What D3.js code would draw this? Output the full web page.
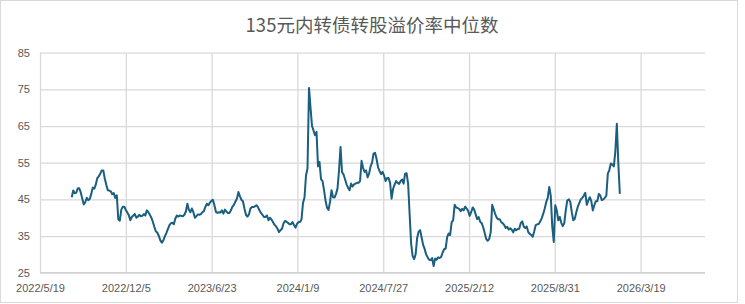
<!DOCTYPE html>
<html>
<head>
<meta charset="utf-8">
<script src="https://cdn.jsdelivr.net/npm/d3@7/dist/d3.min.js"></script>
<style>
  body { margin: 0; background: #fff; }
  text { font-family: "Liberation Sans", Arial, sans-serif; }
</style>
</head>
<body>
<svg id="chart" width="745" height="304"></svg>
<script>
var title = "135元内转债转股溢价率中位数";

// readings of the median premium twice a week, first one on 2022/8/1
var firstDate = "2022/8/1",
    stepDays = 3.5;

var premium = [
  45.6, 47.4, 46.7, 46.8, 48.0, 48.0, 46.9, 45.2, 43.6, 44.2,
  45.4, 44.8, 45.1, 46.5, 48.2, 47.9, 49.0, 50.8, 51.3, 52.0,
  52.9, 52.9, 50.7, 49.0, 47.5, 47.4, 47.2, 46.4, 46.7, 45.4,
  46.1, 39.5, 39.2, 42.2, 43.0, 43.0, 42.1, 41.4, 40.7, 39.3,
  40.2, 40.6, 41.0, 40.0, 40.3, 40.8, 40.4, 40.5, 41.0, 40.6,
  42.0, 41.5, 40.8, 40.0, 38.9, 37.5, 36.3, 35.9, 35.0, 33.8,
  33.2, 33.8, 34.9, 35.8, 36.9, 37.9, 38.5, 38.6, 38.2, 39.8,
  40.6, 40.3, 40.6, 40.5, 40.4, 40.8, 41.7, 43.8, 42.2, 41.5,
  42.5, 41.5, 40.0, 40.4, 40.9, 40.8, 41.0, 41.5, 41.8, 43.0,
  43.8, 43.4, 44.1, 44.6, 44.9, 43.4, 41.6, 41.3, 41.5, 41.4,
  42.0, 41.1, 42.2, 41.7, 41.3, 41.3, 42.0, 43.0, 43.5, 44.4,
  45.2, 47.0, 45.8, 44.9, 44.5, 42.5, 40.8, 40.3, 40.9, 42.5,
  42.9, 42.9, 43.1, 43.4, 42.9, 42.0, 41.3, 40.8, 40.2, 40.2,
  40.6, 39.3, 40.0, 39.5, 38.8, 38.1, 37.7, 37.0, 36.1, 36.6,
  37.0, 38.4, 39.1, 38.9, 38.6, 38.2, 38.2, 38.8, 38.0, 37.3,
  38.3, 38.8, 38.8, 39.5, 44.0, 45.5, 51.5, 53.4, 75.4, 70.0,
  65.0, 63.8, 62.5, 63.4, 54.0, 55.2, 50.5, 50.0, 47.5, 44.7,
  42.7, 42.1, 44.3, 47.5, 45.6, 45.5, 46.5, 48.0, 53.0, 59.3,
  52.4, 51.8, 50.5, 49.1, 48.2, 47.5, 49.3, 48.5, 49.1, 49.3,
  49.5, 49.5, 50.0, 55.5, 53.6, 52.5, 52.9, 51.0, 52.0, 54.0,
  55.0, 57.5, 57.7, 56.0, 53.7, 52.7, 51.9, 52.5, 51.5, 50.0,
  50.8, 50.8, 49.5, 45.2, 47.9, 49.0, 50.0, 49.5, 49.2, 50.0,
  50.4, 49.3, 52.0, 52.1, 49.3, 41.0, 33.0, 29.6, 28.7, 30.0,
  34.4, 36.2, 36.6, 34.6, 32.6, 31.5, 30.0, 29.2, 28.5, 28.4,
  29.0, 26.8, 28.9, 28.5, 29.2, 29.0, 29.3, 30.5, 31.4, 31.6,
  34.7, 35.7, 35.3, 38.8, 39.3, 43.5, 42.8, 42.6, 42.4, 41.8,
  42.4, 42.0, 43.0, 42.5, 41.8, 40.5, 41.5, 42.8, 42.2, 40.9,
  39.6, 40.2, 38.9, 38.5, 37.4, 35.8, 34.2, 33.7, 34.2, 36.0,
  43.5, 42.3, 41.0, 40.0, 39.6, 39.6, 38.8, 38.5, 38.0, 37.2,
  37.5, 36.8, 37.1, 36.7, 36.0, 37.0, 36.6, 36.9, 37.0, 38.5,
  39.0, 37.6, 37.2, 37.6, 36.1, 35.6, 35.3, 34.8, 36.3, 38.0,
  38.2, 38.3, 39.0, 39.9, 41.1, 42.5, 44.3, 45.4, 48.4, 46.0,
  37.5, 33.4, 43.4, 42.0, 39.3, 40.2, 38.6, 37.7, 38.5, 42.0,
  44.7, 45.0, 44.3, 41.5, 39.3, 39.7, 41.5, 43.0, 44.0, 45.0,
  45.4, 46.0, 46.8, 43.5, 44.7, 45.6, 44.5, 42.0, 43.4, 44.5,
  44.5, 46.5, 46.0, 44.8, 45.0, 45.4, 46.0, 52.0, 53.0, 54.8,
  54.5, 54.0, 58.0, 65.6, 54.7, 46.5
];

var xTickLabels = ["2022/5/19", "2022/12/5", "2023/6/23", "2024/1/9",
                   "2024/7/27", "2025/2/12", "2025/8/31", "2026/3/19"];
var yTicks = [25, 35, 45, 55, 65, 75, 85];
var xMaxDays = 1550;   // axis runs a bit past the last label

var parse = d3.utcParse("%Y/%m/%d");
var start = parse(firstDate);
var xTicks = xTickLabels.map(parse);

var data = premium.map(function(v, i) {
  return { date: d3.utcHour.offset(start, i * stepDays * 24), value: v };
});

var svg = d3.select("#chart");
var plotLeft = 40, plotRight = 705, plotTop = 52.7, plotBottom = 272.7;

svg.append("rect")
    .attr("x", 0.5).attr("y", 0.5)
    .attr("width", 737).attr("height", 302)
    .attr("fill", "#fff")
    .attr("stroke", "#d9d9d9");

var x = d3.scaleUtc()
    .domain([xTicks[0], d3.utcDay.offset(xTicks[0], xMaxDays)])
    .range([plotLeft, plotRight]);

var y = d3.scaleLinear()
    .domain([25, 85])
    .range([plotBottom, plotTop]);

// horizontal gridlines + y labels
var yAxis = d3.axisLeft(y)
    .tickValues(yTicks)
    .tickSize(-(plotRight - plotLeft))
    .tickPadding(10);

var gy = svg.append("g")
    .attr("transform", "translate(" + plotLeft + ",0)")
    .call(yAxis);
gy.select(".domain").remove();
gy.selectAll("line").attr("stroke", "#d9d9d9").attr("stroke-width", 1.3);
gy.selectAll("text").attr("fill", "#595959").style("font-size", "11px");

// vertical gridlines + date labels
var xAxis = d3.axisBottom(x)
    .tickValues(xTicks)
    .tickFormat(function(d, i) { return xTickLabels[i]; })
    .tickSize(-(plotBottom - plotTop))
    .tickPadding(12);

var gx = svg.append("g")
    .attr("transform", "translate(0," + plotBottom + ")")
    .call(xAxis);
gx.select(".domain").remove();
gx.selectAll("line").attr("stroke", "#d9d9d9").attr("stroke-width", 1.3);
gx.selectAll("text").attr("fill", "#595959").style("font-size", "11px");

// bottom axis line
svg.append("line")
    .attr("x1", plotLeft).attr("x2", plotRight)
    .attr("y1", plotBottom).attr("y2", plotBottom)
    .attr("stroke", "#d0d0d0")
    .attr("stroke-width", 1.3);

var line = d3.line()
    .x(function(d) { return x(d.date); })
    .y(function(d) { return y(d.value); });

svg.append("path")
    .datum(data)
    .attr("fill", "none")
    .attr("stroke", "#1a5e80")
    .attr("stroke-width", 2)
    .attr("stroke-linejoin", "round")
    .attr("d", line);

svg.append("text")
    .attr("x", 372)
    .attr("y", 32)
    .attr("text-anchor", "middle")
    .attr("fill", "#595959")
    .style("font-family", "'Noto Sans CJK SC', sans-serif")
    .style("font-size", "18.5px")
    .text(title);
</script>
</body>
</html>
